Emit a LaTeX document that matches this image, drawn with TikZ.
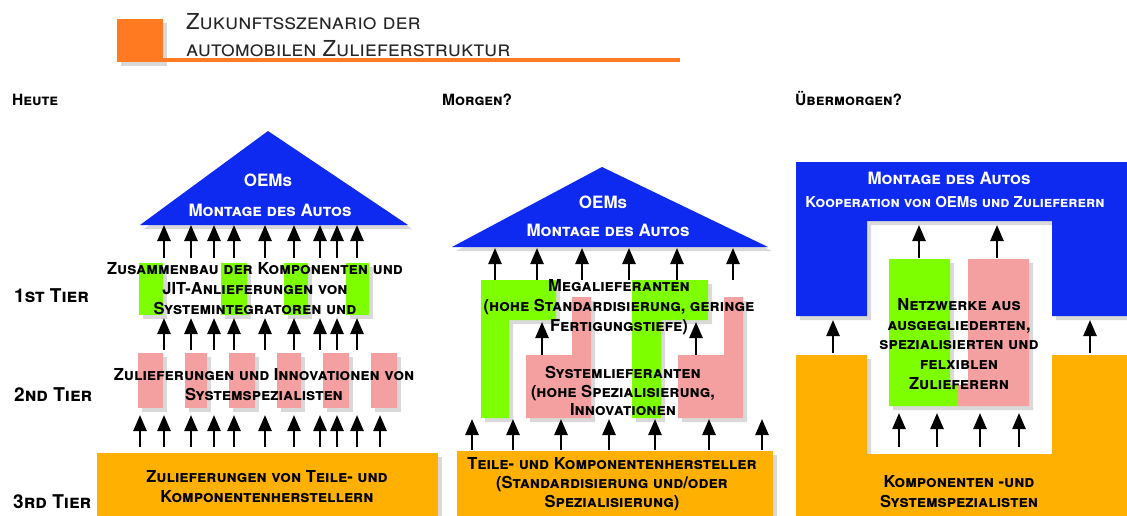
\documentclass[tikz,border=0pt]{standalone}
\usepackage{fontspec}
\setmainfont{TeX Gyre Heros}
\usepackage{xcolor}
\usetikzlibrary{arrows.meta, positioning, shadows}

\definecolor{oemblue}{RGB}{14,42,240}
\definecolor{tiergold}{RGB}{255,176,0}
\definecolor{megagreen}{RGB}{126,255,0}
\definecolor{systpink}{RGB}{244,160,160}
\definecolor{titleorange}{RGB}{255,122,32}

\begin{document}
\begin{tikzpicture}[
  x=1pt, y=-1pt,
  >={Triangle[width=13pt,length=16pt]},
  up/.style={->, line width=2.5pt},
  shade/.style={drop shadow={opacity=0.3, shadow xshift=4pt, shadow yshift=-4pt}},
  era/.style={font=\bfseries\scshape\fontsize{15.5}{18}\selectfont,
              inner sep=0pt, anchor=base west},
  tier/.style={era, font=\bfseries\scshape\fontsize{19}{20}\selectfont},
  txt/.style={font=\bfseries\scshape\fontsize{16.5}{20}\selectfont,
              align=center, inner sep=0pt},
  wtxt/.style={txt, text=white, font=\bfseries\scshape\fontsize{17}{20}\selectfont}
]
\useasboundingbox (0,0) rectangle (1127,515);

% Title
\fill[titleorange, shade] (117,19) rectangle (163,62);
\fill[titleorange] (163,58) rectangle (680,61.5);
\node[font=\scshape\fontsize{22}{27}\selectfont, text=black!85, align=left,
      inner sep=0pt, anchor=north west]
    (title) at (186,13) {Zukunftsszenario der\\automobilen Zulieferstruktur};

% Era and tier labels
\node[era] (heute) at (12,105) {Heute};
\node[era] (morgen) at (442,105) {Morgen?};
\node[era] (uebermorgen) at (795,105) {Übermorgen?};
\node[tier] (tier1) at (14,302) {1st Tier};
\node[tier] (tier2) at (14,401) {2nd Tier};
\node[tier] (tier3) at (13,508) {3rd Tier};

% ---- Heute
\fill[oemblue, shade] (268,131) -- (408,225) -- (140,225) -- cycle;
\foreach \xa/\xb in {139/163, 221/247, 284/308, 346/369}
  \fill[megagreen, shade] (\xa,263) rectangle (\xb,315);
\foreach \xa/\xb in {138/163, 185/207, 229/255, 277/301, 323/349, 371/397}
  \fill[systpink, shade] (\xa,353) rectangle (\xb,408);
\fill[tiergold, shade] (97,453) rectangle (438,520);

\node[wtxt] (oem1) at (268,180) {OEMs};
\node[wtxt] (mont1) at (270,210) {Montage des Autos};
\node[txt] (integ1) at (255,289)
    {Zusammenbau der Komponenten und\\JIT-Anlieferungen von\\Systemintegratoren und};
\node[txt] (spez1) at (264,385)
    {Zulieferungen und Innovationen von\\Systemspezialisten};
\node[txt] (teile1) at (267,487)
    {Zulieferungen von Teile- und\\Komponentenherstellern};

\coordinate (h-roof) at (0,225);
\coordinate (h-t1) at (0,258);
\coordinate (h-t1top) at (0,318);
\coordinate (h-t2) at (0,350);
\coordinate (h-t2top) at (0,415);
\coordinate (h-t3) at (0,447);
\foreach \x in {164,191,214,234,265,294,320,337,357} {
  \draw[up] (\x,0 |- h-t1) -- (\x,0 |- h-roof);
  \draw[up] (\x,0 |- h-t2) -- (\x,0 |- h-t1top);
}
\foreach \x in {140,164,191,214,234,265,294,320,337,357,380}
  \draw[up] (\x,0 |- h-t3) -- (\x,0 |- h-t2top);

% ---- Morgen
\fill[oemblue, shade] (602,167) -- (768,247) -- (452,247) -- cycle;
\fill[megagreen, shade] (481,280) -- (556,280) -- (556,320) -- (509,320)
    -- (509,418) -- (481,418) -- cycle;
\fill[megagreen, shade] (632,280) -- (708,280) -- (708,320) -- (661,320)
    -- (661,418) -- (632,418) -- cycle;
\fill[systpink, shade] (526,355) -- (572,355) -- (572,297) -- (591,297)
    -- (591,418) -- (526,418) -- cycle;
\fill[systpink, shade] (678,355) -- (724,355) -- (724,297) -- (743,297)
    -- (743,418) -- (678,418) -- cycle;
\fill[tiergold, shade] (457,451) rectangle (773,520);

\node[wtxt] (oem2) at (603,202) {OEMs};
\node[wtxt] (mont2) at (608,230) {Montage des Autos};
\node[txt] (mega2) at (619,307)
    {Megalieferanten\\(hohe Standardisierung, geringe\\Fertigungstiefe)};
\node[txt, font=\bfseries\scshape\fontsize{16.5}{18.5}\selectfont] (syst2) at (623,391)
    {Systemlieferanten\\(hohe Spezialisierung,\\Innovationen};
\node[txt, font=\bfseries\scshape\fontsize{16.5}{19}\selectfont] (teile2) at (612,484)
    {Teile- und Komponentenhersteller\\(Standardisierung und/oder\\Spezialisierung)};

\coordinate (m-roof) at (0,248);
\coordinate (m-t1) at (0,280);
\coordinate (m-mega) at (0,322);
\coordinate (m-syst) at (0,355);
\coordinate (m-t2top) at (0,419);
\coordinate (m-t3) at (0,450);
\foreach \x in {495,537,582,629,677,733}
  \draw[up] (\x,0 |- m-t1) -- (\x,0 |- m-roof);
\foreach \x in {542,696}
  \draw[up] (\x,0 |- m-syst) -- (\x,0 |- m-mega);
\foreach \x in {472,513,561,609,655,709,762}
  \draw[up] (\x,0 |- m-t3) -- (\x,0 |- m-t2top);

% ---- Uebermorgen
\fill[oemblue, shade] (796,162) -- (1135,162) -- (1135,316) -- (1052,316)
    -- (1052,221) -- (867,221) -- (867,316) -- (796,316) -- cycle;
\fill[megagreen, shade] (889,259) -- (950,259) -- (950,385) -- (958,385)
    -- (958,406) -- (889,406) -- cycle;
\fill[systpink, shade] (968,259) -- (1029,259) -- (1029,406) -- (958,406)
    -- (958,385) -- (968,385) -- cycle;
\fill[tiergold, shade] (796,355) -- (867,355) -- (867,454) -- (1052,454)
    -- (1052,355) -- (1135,355) -- (1135,520) -- (796,520) -- cycle;

\node[wtxt] (mont3) at (949,178) {Montage des Autos};
\node[wtxt, font=\bfseries\scshape\fontsize{15}{20}\selectfont]
    (koop3) at (955,202) {Kooperation von OEMs und Zulieferern};
\node[txt, font=\bfseries\scshape\fontsize{16.5}{19.7}\selectfont] (netz3) at (959,344)
    {Netzwerke aus\\ausgegliederten,\\spezialisierten und\\felxiblen\\Zulieferern};
\node[txt] (komp3) at (959,492) {Komponenten -und\\Systemspezialisten};

\coordinate (u-roof) at (0,225);
\coordinate (u-net) at (0,258);
\coordinate (u-leg) at (0,320);
\coordinate (u-foot) at (0,353);
\coordinate (u-nettop) at (0,413);
\coordinate (u-t3) at (0,447);
\foreach \x in {919,997}
  \draw[up] (\x,0 |- u-net) -- (\x,0 |- u-roof);
\foreach \x in {833,1090}
  \draw[up] (\x,0 |- u-foot) -- (\x,0 |- u-leg);
\foreach \x in {899,937,980,1019}
  \draw[up] (\x,0 |- u-t3) -- (\x,0 |- u-nettop);

\end{tikzpicture}
\end{document}
